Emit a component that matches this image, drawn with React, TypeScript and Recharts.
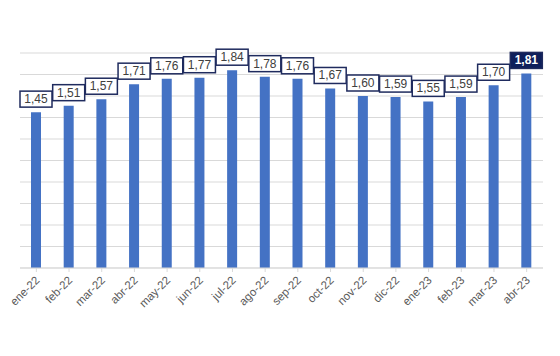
import { BarChart, Bar, XAxis, YAxis, CartesianGrid, LabelList } from 'recharts';

const MONTHS = [
  'ene-22','feb-22','mar-22','abr-22','may-22','jun-22','jul-22','ago-22',
  'sep-22','oct-22','nov-22','dic-22','ene-23','feb-23','mar-23','abr-23',
];
const VALUES = [1.45, 1.51, 1.57, 1.71, 1.76, 1.77, 1.84, 1.78, 1.76, 1.67, 1.6, 1.59, 1.55, 1.59, 1.7, 1.81];
const Y_TICKS = [0, 0.2, 0.4, 0.6, 0.8, 1, 1.2, 1.4, 1.6, 1.8, 2];

const BAR = '#4472C4';
const NAVY = '#1F2B5E';
const LAST = MONTHS.length - 1;

const data = MONTHS.map((m, i) => ({ month: m, value: VALUES[i] }));

const fmt = (v: number) => v.toFixed(2).replace('.', ',');

const ValueBox = (props: any) => {
  const { x, y, width, value, index } = props;
  const cx = x + width / 2;
  const w = 32, h = 16;
  const top = y - 5 - h;
  const last = index === LAST;
  return (
    <g>
      <rect x={cx - w / 2} y={top} width={w} height={h}
        fill={last ? '#0E1F5B' : '#fff'} stroke={NAVY} strokeWidth={1.5} />
      <text x={cx} y={top + h / 2 + 4} textAnchor="middle" fontSize={12}
        fontFamily="'Liberation Sans', Arial, sans-serif"
        fontWeight={last ? 700 : 400} fill={last ? '#fff' : '#404040'}>
        {fmt(value)}
      </text>
    </g>
  );
};

const MonthTick = ({ x, y, payload }: any) => (
  <g transform={`translate(${x + 4},${y + 7})`}>
    <text textAnchor="end" transform="rotate(-45)" fontSize={11.5}
      fontFamily="'Liberation Sans', Arial, sans-serif" fill="#595959">
      {payload.value}
    </text>
  </g>
);

export default function App() {
  return (
    <div style={{ position: 'fixed', left: 0, top: 0, width: 560, height: 356, background: '#fff' }}>
      <BarChart width={560} height={356} data={data}
        margin={{ top: 53, right: 17, left: 20, bottom: 28 }}>
        <CartesianGrid vertical={false} stroke="#d9d9d9" />
        <YAxis hide domain={[0, 2]} ticks={Y_TICKS} tickCount={11} interval={0} />
        <XAxis dataKey="month" interval={0} height={60} tick={<MonthTick />}
          axisLine={{ stroke: '#d9d9d9' }} tickLine={{ stroke: '#d9d9d9' }} tickSize={4} />
        <Bar dataKey="value" fill={BAR} barSize={10} isAnimationActive={false}>
          <LabelList dataKey="value" content={<ValueBox />} />
        </Bar>
      </BarChart>
    </div>
  );
}
